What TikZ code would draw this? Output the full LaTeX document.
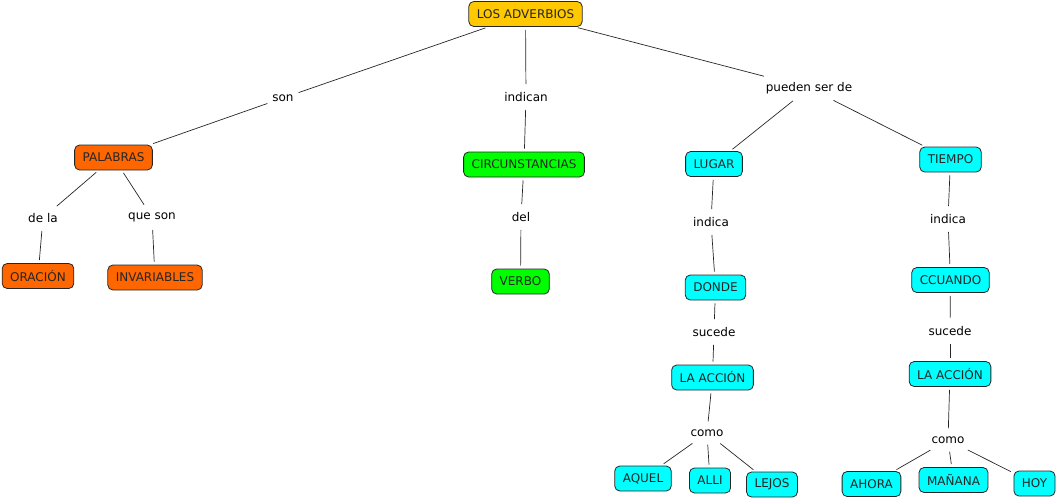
\documentclass[tikz,border=0pt]{standalone}
\usepackage{fontspec}
\setmainfont{DejaVu Sans}
\definecolor{cgold}{HTML}{FFC800}
\definecolor{corange}{HTML}{FF6600}
\definecolor{cgreen}{HTML}{00FF00}
\definecolor{ccyan}{HTML}{00FFFF}
\begin{document}
\begin{tikzpicture}[x=1pt,y=-1pt,
  concept/.style={draw=black!85, line width=0.8pt, rounded corners=5pt, inner xsep=8pt, minimum height=25pt, font=\fontsize{12}{14}\selectfont, text=black!85},
  gold/.style={concept, fill=cgold},
  orng/.style={concept, fill=corange},
  grn/.style={concept, fill=cgreen},
  cyn/.style={concept, fill=ccyan},
  lbl/.style={inner xsep=2pt, inner ysep=5pt, font=\fontsize{12}{14}\selectfont},
  link/.style={draw=black!85, line width=0.7pt, shorten >=3pt, shorten <=3pt}]
\useasboundingbox (0,0) rectangle (1061,499);
% concepts
\node[gold] (adv) at (525.5,14) {LOS ADVERBIOS};
\node[orng] (pal) at (113.5,157.5) {PALABRAS};
\node[orng] (ora) at (38,276) {ORACIÓN};
\node[orng] (inv) at (155,277.5) {INVARIABLES};
\node[grn] (cir) at (524,164.5) {CIRCUNSTANCIAS};
\node[grn] (ver) at (520.5,281.5) {VERBO};
\node[cyn] (lug) at (714,164) {LUGAR};
\node[cyn] (tie) at (950.5,159.5) {TIEMPO};
\node[cyn] (don) at (715.5,287.5) {DONDE};
\node[cyn] (cua) at (950.5,280) {CCUANDO};
\node[cyn] (acl) at (712.5,377.5) {LA ACCIÓN};
\node[cyn] (acr) at (950,374) {LA ACCIÓN};
\node[cyn] (aqu) at (643,478.5) {AQUEL};
\node[cyn] (all) at (710,480.5) {ALLI};
\node[cyn] (lej) at (772,484.5) {LEJOS};
\node[cyn] (aho) at (871.5,484) {AHORA};
\node[cyn] (man) at (953.5,480) {MAÑANA};
\node[cyn] (hoy) at (1034.5,483.5) {HOY};
% linking phrases
\node[lbl] (son) at (283,98) {son};
\node[lbl] (ind) at (526,97) {indican};
\node[lbl] (pue) at (809,88) {pueden ser de};
\node[lbl] (del) at (43,218) {de la};
\node[lbl] (qso) at (152,217) {que son};
\node[lbl] (dell) at (521,217) {del};
\node[lbl] (in1) at (711,222) {indica};
\node[lbl] (in2) at (948,219) {indica};
\node[lbl] (su1) at (714,332) {sucede};
\node[lbl] (su2) at (950,331) {sucede};
\node[lbl] (co1) at (707,433) {como};
\node[lbl] (co2) at (948,440) {como};
% connectors
\draw[link] (adv) -- (son);
\draw[link] (son) -- (pal);
\draw[link] (adv) -- (ind);
\draw[link] (ind) -- (cir);
\draw[link] (adv) -- (pue);
\draw[link] (pue) -- (lug);
\draw[link] (pue) -- (tie);
\draw[link] (pal) -- (del);
\draw[link] (del) -- (ora);
\draw[link] (pal) -- (qso);
\draw[link] (qso) -- (inv);
\draw[link] (cir) -- (dell);
\draw[link] (dell) -- (ver);
\draw[link] (lug) -- (in1);
\draw[link] (in1) -- (don);
\draw[link] (tie) -- (in2);
\draw[link] (in2) -- (cua);
\draw[link] (don) -- (su1);
\draw[link] (su1) -- (acl);
\draw[link] (cua) -- (su2);
\draw[link] (su2) -- (acr);
\draw[link] (acl) -- (co1);
\draw[link] (co1) -- (aqu);
\draw[link] (co1) -- (all);
\draw[link] (co1) -- (lej);
\draw[link] (acr) -- (co2);
\draw[link] (co2) -- (aho);
\draw[link] (co2) -- (man);
\draw[link] (co2) -- (hoy);
\end{tikzpicture}
\end{document}
